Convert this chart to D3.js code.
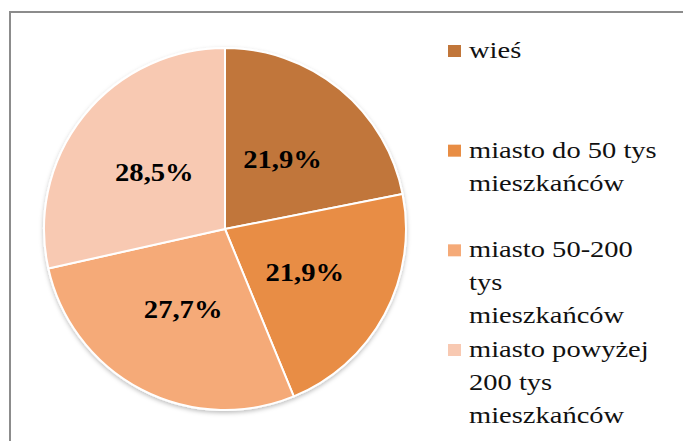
<!DOCTYPE html>
<html>
<head>
<meta charset="utf-8">
<script src="https://cdn.jsdelivr.net/npm/d3@7"></script>
<style>
  body { margin: 0; background: #fff; }
  svg { display: block; }
  .pct { font-family: "Liberation Serif", "Times New Roman", serif; font-weight: bold; font-size: 26px; fill: #000; }
  .leg { font-family: "Liberation Serif", "Times New Roman", serif; font-size: 23px; fill: #111; }
</style>
</head>
<body>
<svg width="683" height="441"></svg>
<script>
// data
var categories = ["wieś", "miasto do 50 tys mieszkańców", "miasto 50-200 tys mieszkańców", "miasto powyżej 200 tys mieszkańców"];
var values = [21.9, 21.9, 27.7, 28.5];
var labels = ["21,9%", "21,9%", "27,7%", "28,5%"];
var legendLines = [
  ["wieś"],
  ["miasto do 50 tys", "mieszkańców"],
  ["miasto 50-200", "tys", "mieszkańców"],
  ["miasto powyżej", "200 tys", "mieszkańców"]
];
var colors = ["#c1763a", "#e88d44", "#f5aa78", "#f8c9b2"];

var svg = d3.select('svg');
var width = +svg.attr('width');
var height = +svg.attr('height');

// frame (runs off to the right and bottom)
svg.append('rect')
  .attr('x', 10)
  .attr('y', 12)
  .attr('width', width + 20)
  .attr('height', height + 20)
  .attr('fill', 'none')
  .attr('stroke', '#8c8c8c')
  .attr('stroke-width', 2);

var defs = svg.append('defs');
var filt = defs.append('filter')
  .attr('id', 'shadow')
  .attr('x', '-10%').attr('y', '-10%')
  .attr('width', '120%').attr('height', '120%');
filt.append('feDropShadow')
  .attr('dx', 0)
  .attr('dy', 2)
  .attr('stdDeviation', 2)
  .attr('flood-color', '#000')
  .attr('flood-opacity', 0.25);

var cx = 225, cy = 229, radius = 181;

var color = d3.scaleOrdinal().domain(categories).range(colors);

var pie = d3.pie()
  .sort(null)
  .value(function (d, i) { return values[i]; });
var data_ready = pie(categories);

var arc = d3.arc().innerRadius(0).outerRadius(radius);

var g = svg.append('g')
  .attr('transform', 'translate(' + cx + ',' + cy + ')');

g.append('g')
  .attr('filter', 'url(#shadow)')
  .selectAll('path')
  .data(data_ready)
  .join('path')
  .attr('d', arc)
  .attr('fill', function (d) { return color(d.data); })
  .attr('stroke', 'white')
  .style('stroke-width', '2px')
  .style('stroke-linejoin', 'round');

g.selectAll('text.pct')
  .data(data_ready)
  .join('text')
  .attr('class', 'pct')
  .attr('transform', function (d) {
    var c = arc.centroid(d);
    return 'translate(' + c[0] + ',' + (c[1] + 9) + ') scale(1.1,1)';
  })
  .attr('text-anchor', 'middle')
  .text(function (d, i) { return labels[i]; });

// legend
var ly = d3.scalePoint().domain(categories).range([58, 357]);
var lineH = 33;

var leg = svg.append('g');
var item = leg.selectAll('g.item')
  .data(categories)
  .join('g')
  .attr('class', 'item')
  .attr('transform', function (d) { return 'translate(448,' + ly(d) + ')'; });

item.append('rect')
  .attr('x', 0)
  .attr('y', -13)
  .attr('width', 13)
  .attr('height', 12)
  .attr('fill', function (d) { return color(d); });

item.each(function (d, i) {
  var sel = d3.select(this);
  legendLines[i].forEach(function (line, j) {
    sel.append('text')
      .attr('class', 'leg')
      .attr('transform', 'translate(21,' + (j * lineH) + ') scale(1.24,1)')
      .text(line);
  });
});
</script>
</body>
</html>
